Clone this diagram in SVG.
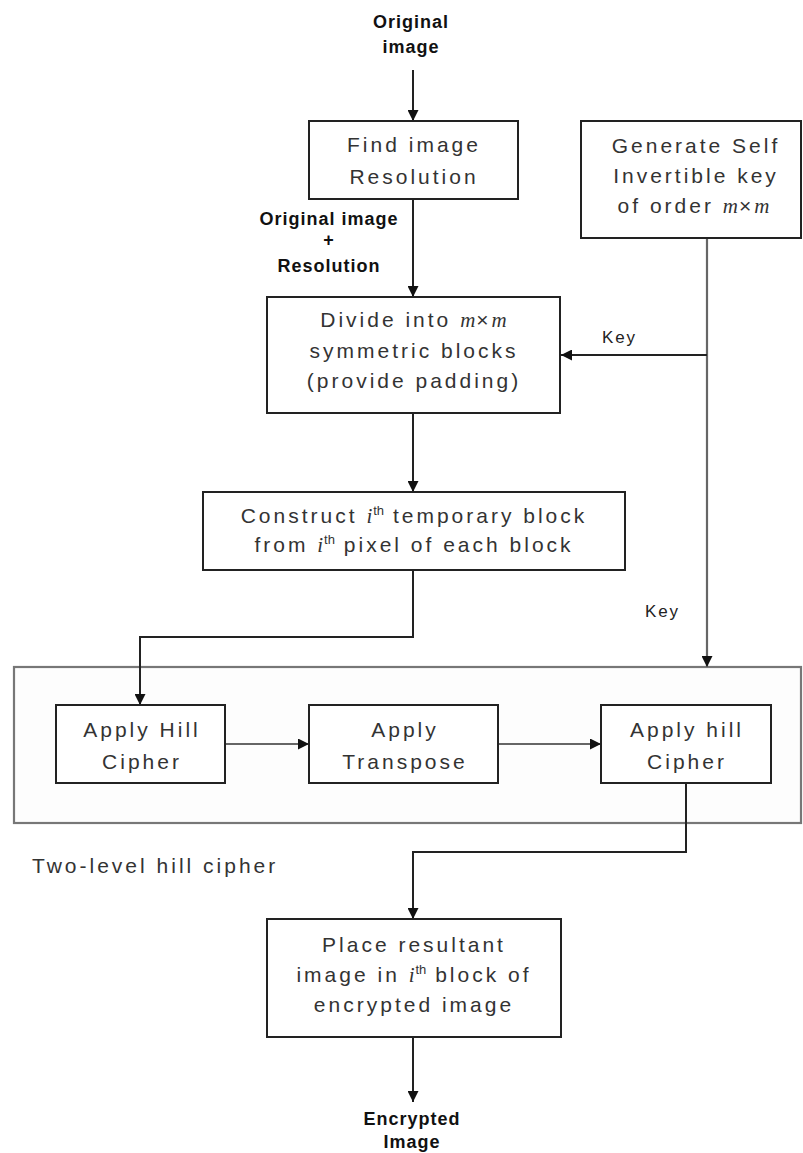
<svg xmlns="http://www.w3.org/2000/svg" width="803" height="1153" viewBox="0 0 803 1153">
<defs>
<style>
.box{fill:#fff;stroke:#222;stroke-width:2}
.cont{fill:#fdfdfd;stroke:#777;stroke-width:2.2}
.t{font-family:"Liberation Sans",Arial,sans-serif;font-size:21px;fill:#333;letter-spacing:3px;text-anchor:middle}
.b{font-family:"Liberation Sans",Arial,sans-serif;font-size:18px;font-weight:bold;fill:#111;letter-spacing:1px;text-anchor:middle}
.k{font-family:"Liberation Sans",Arial,sans-serif;font-size:17px;fill:#222;letter-spacing:1.8px}
.m{font-family:"Liberation Serif","Times New Roman",serif;font-style:italic;letter-spacing:1px}
.c{fill:none;stroke:#222;stroke-width:2}
.cg{fill:none;stroke:#666;stroke-width:2.2}
</style>
<marker id="ah" viewBox="0 0 10 10" refX="10" refY="5" markerWidth="11" markerHeight="11" markerUnits="userSpaceOnUse" orient="auto">
<path d="M0,0 L10,5 L0,10 Z" fill="#111"/>
</marker>
</defs>
<rect width="803" height="1153" fill="#fff"/>

<g id="container">
<rect class="cont" x="14" y="667" width="787" height="156"/>
<text class="t" x="32" y="873" style="text-anchor:start">Two-level hill cipher</text>
</g>

<g id="connectors">
<line class="c" x1="413" y1="70" x2="413" y2="121" marker-end="url(#ah)"/>
<line class="c" x1="413" y1="199" x2="413" y2="297" marker-end="url(#ah)"/>
<line class="cg" x1="707" y1="238" x2="707" y2="667" marker-end="url(#ah)"/>
<line class="c" x1="707" y1="355" x2="561" y2="355" marker-end="url(#ah)"/>
<line class="c" x1="413" y1="413" x2="413" y2="492" marker-end="url(#ah)"/>
<polyline class="c" points="413,570 413,637 140,637 140,705" marker-end="url(#ah)"/>
<line class="cg" x1="225" y1="744" x2="309" y2="744" marker-end="url(#ah)"/>
<line class="cg" x1="498" y1="744" x2="601" y2="744" marker-end="url(#ah)"/>
<polyline class="c" points="686,783 686,852 413,852 413,919" marker-end="url(#ah)"/>
<line class="c" x1="413" y1="1037" x2="413" y2="1102" marker-end="url(#ah)"/>
<text class="k" x="602" y="343">Key</text>
<text class="k" x="645" y="617">Key</text>
<text class="b" x="329" y="225">Original image</text>
<text class="b" x="329" y="246">+</text>
<text class="b" x="329" y="272">Resolution</text>
</g>

<g id="input">
<text class="b" x="411" y="28">Original</text>
<text class="b" x="411" y="53">image</text>
</g>

<g id="find-resolution">
<rect class="box" x="309" y="121" width="209" height="78"/>
<text class="t" x="414" y="152">Find image</text>
<text class="t" x="414" y="184">Resolution</text>
</g>

<g id="generate-key">
<rect class="box" x="581" y="121" width="220" height="117"/>
<text class="t" x="696" y="153">Generate Self</text>
<text class="t" x="696" y="183">Invertible key</text>
<text class="t" x="694" y="213">of order <tspan class="m">m</tspan>×<tspan class="m">m</tspan></text>
</g>

<g id="divide">
<rect class="box" x="267" y="297" width="293" height="116"/>
<text class="t" x="414" y="327">Divide into  <tspan class="m">m</tspan>×<tspan class="m">m</tspan></text>
<text class="t" x="414" y="358">symmetric blocks</text>
<text class="t" x="414" y="388">(provide padding)</text>
</g>

<g id="construct">
<rect class="box" x="203" y="492" width="422" height="78"/>
<text class="t" x="414" y="523">Construct <tspan class="m">i</tspan><tspan font-size="13" dy="-8" letter-spacing="0">th</tspan><tspan dy="8"> temporary block</tspan></text>
<text class="t" x="414" y="552">from <tspan class="m">i</tspan><tspan font-size="13" dy="-8" letter-spacing="0">th</tspan><tspan dy="8"> pixel of each block</tspan></text>
</g>

<g id="hill1">
<rect class="box" x="56" y="705" width="169" height="78"/>
<text class="t" x="142" y="737">Apply Hill</text>
<text class="t" x="142" y="769">Cipher</text>
</g>

<g id="transpose">
<rect class="box" x="309" y="705" width="189" height="78"/>
<text class="t" x="405" y="737">Apply</text>
<text class="t" x="405" y="769">Transpose</text>
</g>

<g id="hill2">
<rect class="box" x="601" y="705" width="170" height="78"/>
<text class="t" x="687" y="737">Apply hill</text>
<text class="t" x="687" y="769">Cipher</text>
</g>

<g id="place">
<rect class="box" x="267" y="919" width="294" height="118"/>
<text class="t" x="414" y="952">Place resultant</text>
<text class="t" x="414" y="982">image in <tspan class="m">i</tspan><tspan font-size="13" dy="-8" letter-spacing="0">th</tspan><tspan dy="8"> block of</tspan></text>
<text class="t" x="414" y="1012">encrypted image</text>
</g>

<g id="output">
<text class="b" x="412" y="1125">Encrypted</text>
<text class="b" x="412" y="1148">Image</text>
</g>
</svg>
